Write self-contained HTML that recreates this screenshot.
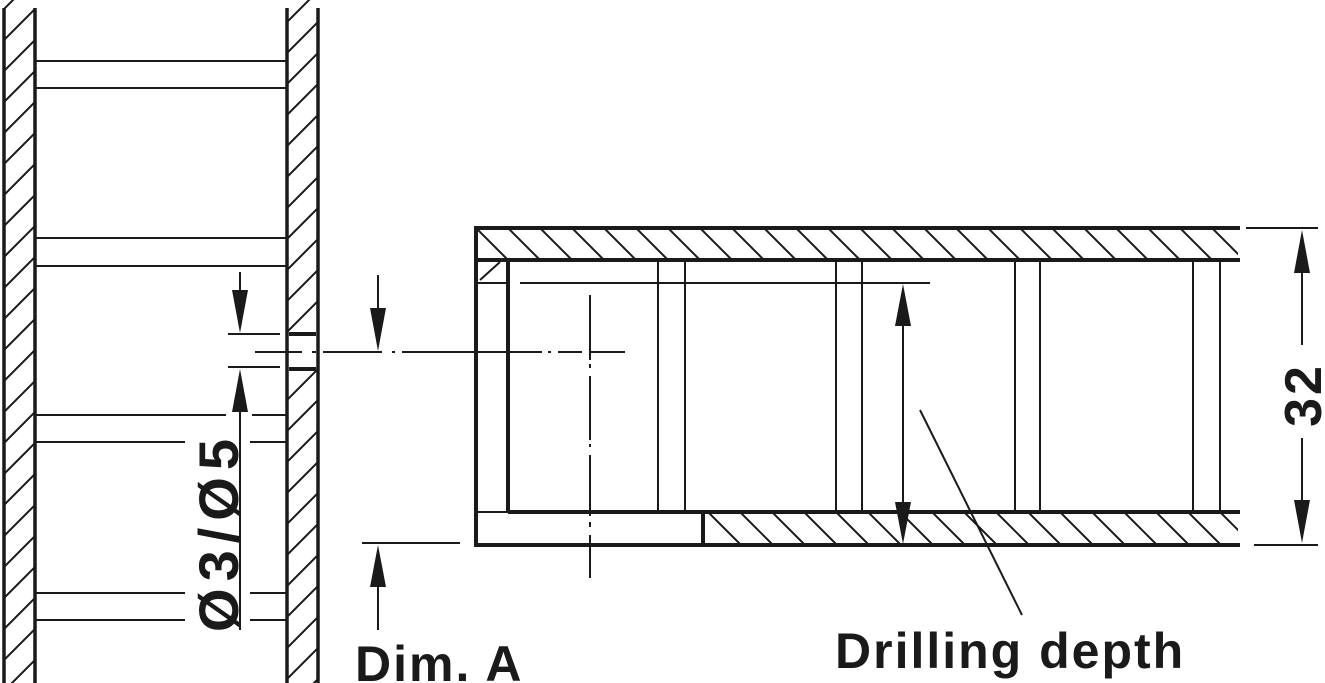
<!DOCTYPE html>
<html><head><meta charset="utf-8"><style>html,body{margin:0;padding:0;background:#fff}svg{display:block}</style></head><body>
<svg width="1325" height="683" viewBox="0 0 1325 683" xmlns="http://www.w3.org/2000/svg">
<defs>
<clipPath id="lw"><rect x="4" y="0" width="31" height="683"/></clipPath>
<clipPath id="rw1"><rect x="287" y="0" width="31" height="334"/></clipPath>
<clipPath id="rw2"><rect x="287" y="369" width="31" height="314"/></clipPath>
<clipPath id="th"><rect x="476" y="228" width="762" height="32"/></clipPath>
<clipPath id="bh"><rect x="703" y="512" width="535" height="33"/></clipPath>
</defs>
<g stroke="#1a1a1a" fill="none" stroke-linecap="butt">
<g clip-path="url(#lw)" stroke-width="2">
<path d="M4,40 L35,9 M4,71 L35,40 M4,102 L35,71 M4,133 L35,102 M4,164 L35,133 M4,195 L35,164 M4,226 L35,195 M4,257 L35,226 M4,288 L35,257 M4,319 L35,288 M4,350 L35,319 M4,381 L35,350 M4,412 L35,381 M4,443 L35,412 M4,474 L35,443 M4,505 L35,474 M4,536 L35,505 M4,567 L35,536 M4,598 L35,567 M4,629 L35,598 M4,660 L35,629 M4,691 L35,660 M4,9 L35,-22"/>
</g>
<g clip-path="url(#rw1)" stroke-width="2"><path d="M287,22 L318,-9 M287,53 L318,22 M287,84 L318,53 M287,115 L318,84 M287,146 L318,115 M287,177 L318,146 M287,208 L318,177 M287,239 L318,208 M287,270 L318,239 M287,301 L318,270 M287,332 L318,301"/></g>
<g clip-path="url(#rw2)" stroke-width="2"><path d="M287,400 L318,369 M287,431 L318,400 M287,462 L318,431 M287,493 L318,462 M287,524 L318,493 M287,555 L318,524 M287,586 L318,555 M287,617 L318,586 M287,648 L318,617 M287,679 L318,648 M287,710 L318,679"/></g>
<g stroke-width="3.5">
<path d="M4,8 V683 M35,8 V683 M287,8 V683 M318,8 V683"/>
<path d="M289,334 H316 M289,369 H316" stroke-width="4"/>
</g>
<g stroke-width="2">
<path d="M35,61 H287 M35,88 H287 M35,238 H287 M35,266 H287"/>
<path d="M35,415 H226 M252,415 H287 M35,442 H185 M250,442 H287"/>
<path d="M35,593 H185 M250,593 H287 M35,620 H185 M250,620 H287"/>
<path d="M228,334 H280 M228,367 H280"/>
<path d="M240,272 V300 M240,400 V630"/>
<path d="M378,275 V320 M378,580 V630"/>
<path d="M362,543 H460"/>
<path d="M255,352 H302 M312,352 H316 M323,352 H382 M392,352 H395 M402,352 H542 M548,352 H551 M558,352 H582 M590,352 H625" />
<path d="M590,295 V360 M590,364 V368 M590,376 V440 M590,444 V447 M590,455 V516 M590,522 V527 M590,535 V578"/>
</g>
<g fill="#1a1a1a" stroke="none">
<polygon points="232,290 248,290 240,333"/>
<polygon points="232,412 248,412 240,369"/>
<polygon points="370,308 386,308 378,351"/>
<polygon points="370,587 386,587 378,545"/>
</g>
<g clip-path="url(#th)" stroke-width="2"><path d="M466,218 L508,260 M498,218 L540,260 M530,218 L572,260 M562,218 L604,260 M594,218 L636,260 M626,218 L668,260 M658,218 L700,260 M690,218 L732,260 M722,218 L764,260 M754,218 L796,260 M786,218 L828,260 M818,218 L860,260 M850,218 L892,260 M882,218 L924,260 M914,218 L956,260 M946,218 L988,260 M978,218 L1020,260 M1010,218 L1052,260 M1042,218 L1084,260 M1074,218 L1116,260 M1106,218 L1148,260 M1138,218 L1180,260 M1170,218 L1212,260 M1202,218 L1244,260"/></g>
<g clip-path="url(#bh)" stroke-width="2"><path d="M700,504 L742,546 M732,504 L774,546 M764,504 L806,546 M796,504 L838,546 M828,504 L870,546 M860,504 L902,546 M892,504 L934,546 M924,504 L966,546 M956,504 L998,546 M988,504 L1030,546 M1020,504 L1062,546 M1052,504 L1094,546 M1084,504 L1126,546 M1116,504 L1158,546 M1148,504 L1190,546 M1180,504 L1222,546 M1212,504 L1254,546"/></g>
<g stroke-width="4">
<path d="M476,228 H1240 M476,260 H1240 M476,545 H1240 M508,512 H1240 M476,226 V547 M508,260 V512 M703,512 V545"/>
</g>
<g stroke-width="2">
<path d="M478,283 H508 M478,512 H508 M480,280 L500,262"/>
<path d="M520,283 H930"/>
<path d="M658,260 V512 M685,260 V512 M836,260 V512 M862,260 V512 M1015,260 V512 M1040,260 V512 M1193,260 V512 M1220,260 V512"/>
<path d="M903,325 V505"/>
<path d="M920,410 L1022,615"/>
<path d="M1246,228 H1318 M1254,545 H1318"/>
<path d="M1302,270 V345 M1302,438 V500"/>
</g>
<g fill="#1a1a1a" stroke="none">
<polygon points="895,326 911,326 903,284"/>
<polygon points="895,502 911,502 903,544"/>
<polygon points="1294,273 1310,273 1302,230"/>
<polygon points="1294,500 1310,500 1302,543"/>
</g>
</g>
<g font-family="'Liberation Sans',sans-serif" font-weight="bold" fill="#1a1a1a">
<text x="355" y="681" font-size="50" letter-spacing="2">Dim. A</text>
<text x="835" y="668" font-size="50" letter-spacing="2">Drilling depth</text>
<text transform="translate(1321,395) rotate(-90)" text-anchor="middle" font-size="52" letter-spacing="3">32</text>
<text transform="translate(238,532) rotate(-90)" text-anchor="middle" font-size="56" letter-spacing="7">Ø3/Ø5</text>
</g>
</svg>
</body></html>
